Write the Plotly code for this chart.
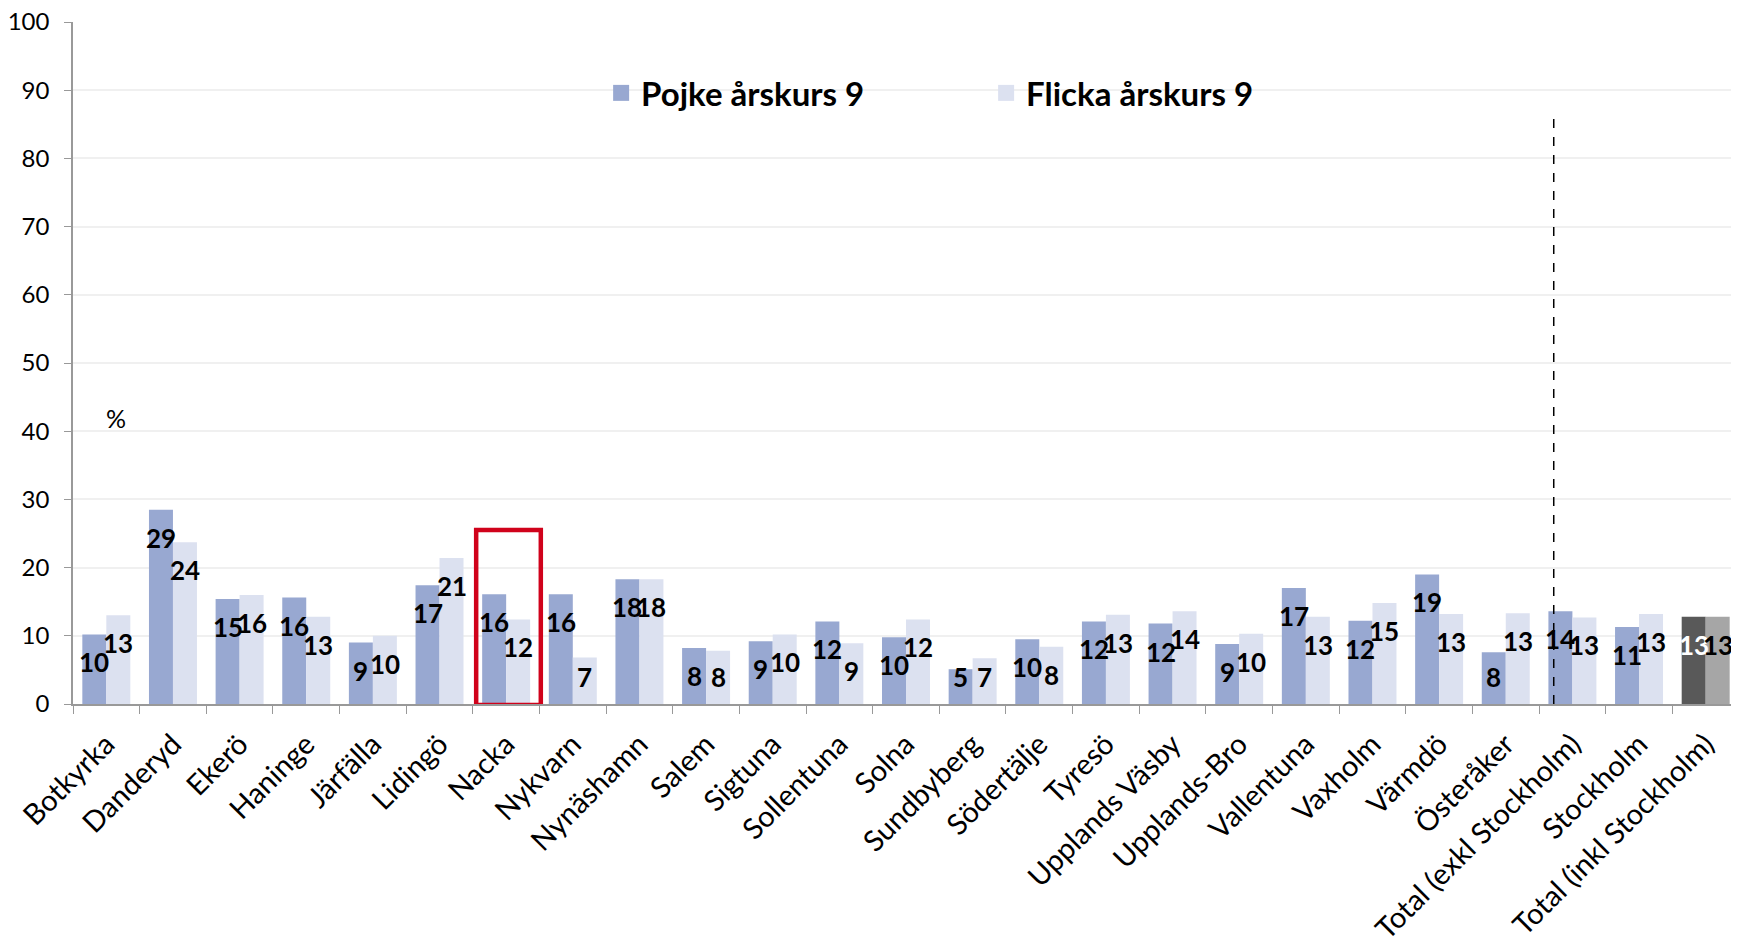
import plotly.graph_objects as go

# Andel (%) per kommun, årskurs 9
kommuner = ["Botkyrka", "Danderyd", "Ekerö", "Haninge", "Järfälla", "Lidingö", "Nacka",
            "Nykvarn", "Nynäshamn", "Salem", "Sigtuna", "Sollentuna", "Solna", "Sundbyberg",
            "Södertälje", "Tyresö", "Upplands Väsby", "Upplands-Bro", "Vallentuna", "Vaxholm",
            "Värmdö", "Österåker", "Total (exkl Stockholm)", "Stockholm", "Total (inkl Stockholm)"]

pojke = [10.2, 28.5, 15.4, 15.6, 9.0, 17.4, 16.1, 16.1, 18.3, 8.2, 9.2, 12.1, 9.8, 5.1,
         9.5, 12.1, 11.8, 8.8, 17.0, 12.2, 19.0, 7.6, 13.6, 11.3, 12.8]
flicka = [13.0, 23.7, 16.0, 12.8, 10.0, 21.4, 12.4, 6.8, 18.3, 7.8, 10.2, 8.9, 12.4, 6.7,
          8.4, 13.1, 13.6, 10.3, 12.8, 14.8, 13.2, 13.3, 12.7, 13.2, 12.8]

pojke_lbl = [10, 29, 15, 16, 9, 17, 16, 16, 18, 8, 9, 12, 10, 5, 10, 12, 12, 9, 17, 12, 19, 8, 14, 11, 13]
flicka_lbl = [13, 24, 16, 13, 10, 21, 12, 7, 18, 8, 10, 9, 12, 7, 8, 13, 14, 10, 13, 15, 13, 13, 13, 13, 13]

FONT = "Lato, 'Open Sans', sans-serif"
last = kommuner[-1]
POJKE_C, FLICKA_C = "#98A8D1", "#DCE1F0"

p_colors = ["#595959" if k == last else POJKE_C for k in kommuner]
f_colors = ["#A6A6A6" if k == last else FLICKA_C for k in kommuner]

fig = go.Figure()
fig.add_trace(go.Bar(x=kommuner, y=pojke, name="Pojke årskurs 9", showlegend=False,
                     marker=dict(color=p_colors, line=dict(width=0))))
fig.add_trace(go.Bar(x=kommuner, y=flicka, name="Flicka årskurs 9", showlegend=False,
                     marker=dict(color=f_colors, line=dict(width=0))))

# legend entries with larger square swatches
for name, col in [("Pojke årskurs 9", POJKE_C), ("Flicka årskurs 9", FLICKA_C)]:
    fig.add_trace(go.Scatter(x=[None], y=[None], mode="markers", name=name,
                             marker=dict(symbol="square", size=17, color=col)))

# value labels just inside the top of each bar
annotations = []
for k, pv, fv, pl, fl in zip(kommuner, pojke, flicka, pojke_lbl, flicka_lbl):
    for v, lbl, xs, col in [(pv, pl, -12, "white" if k == last else "black"),
                            (fv, fl, 12, "black")]:
        annotations.append(dict(x=k, y=max(v, 8), text=str(lbl), showarrow=False,
                                xshift=xs, yshift=-28, xanchor="center", yanchor="middle",
                                font=dict(family=FONT, size=26, color=col, weight="bold")))

annotations.append(dict(x=0.15, y=42, text="%", showarrow=False,
                        font=dict(family=FONT, size=25, color="black")))

# page body adds an 8px margin, so the figure is sized to fit inside the window
fig.update_layout(
    width=1731, height=944,
    margin=dict(l=65, r=0, t=14, b=248, autoexpand=False),
    plot_bgcolor="white", paper_bgcolor="white",
    barmode="group", bargap=0.28, bargroupgap=0,
    font=dict(family=FONT, color="black"),
    legend=dict(orientation="h", x=0.317, y=0.896, xanchor="left", yanchor="middle",
                entrywidth=340, entrywidthmode="pixels", bgcolor="rgba(0,0,0,0)",
                font=dict(family=FONT, size=33, color="black", weight="bold"),
                itemsizing="trace", itemwidth=30),
    showlegend=True,
    annotations=annotations,
    shapes=[
        dict(type="line", xref="x", yref="y", x0=21.72, x1=21.72, y0=0, y1=86.5,
             line=dict(color="black", width=1.5, dash="dash")),
        dict(type="rect", xref="x", yref="y", x0=5.55, x1=6.52, y0=-0.15, y1=25.5,
             line=dict(color="#D0021B", width=4.5)),
    ],
)

fig.update_xaxes(range=[-0.5, 24.5], tickangle=-45, showline=True, linecolor="#999999",
                 linewidth=1.5, ticks="outside", ticklen=8, tickcolor="#999999",
                 tickson="boundaries", showgrid=False, automargin=False,
                 ticklabelstandoff=10, ticklabeloverflow="allow",
                 tickfont=dict(family=FONT, size=29, color="black"))
fig.update_yaxes(range=[0, 100], dtick=10, showline=True, linecolor="#999999", linewidth=1.5,
                 ticks="outside", ticklen=7, tickcolor="#999999", showgrid=True,
                 gridcolor="#F0F0F0", gridwidth=1.5, zeroline=False, automargin=False,
                 ticklabelstandoff=10, ticklabeloverflow="allow",
                 tickfont=dict(family=FONT, size=24, color="black"))

fig.write_html("out.html")
